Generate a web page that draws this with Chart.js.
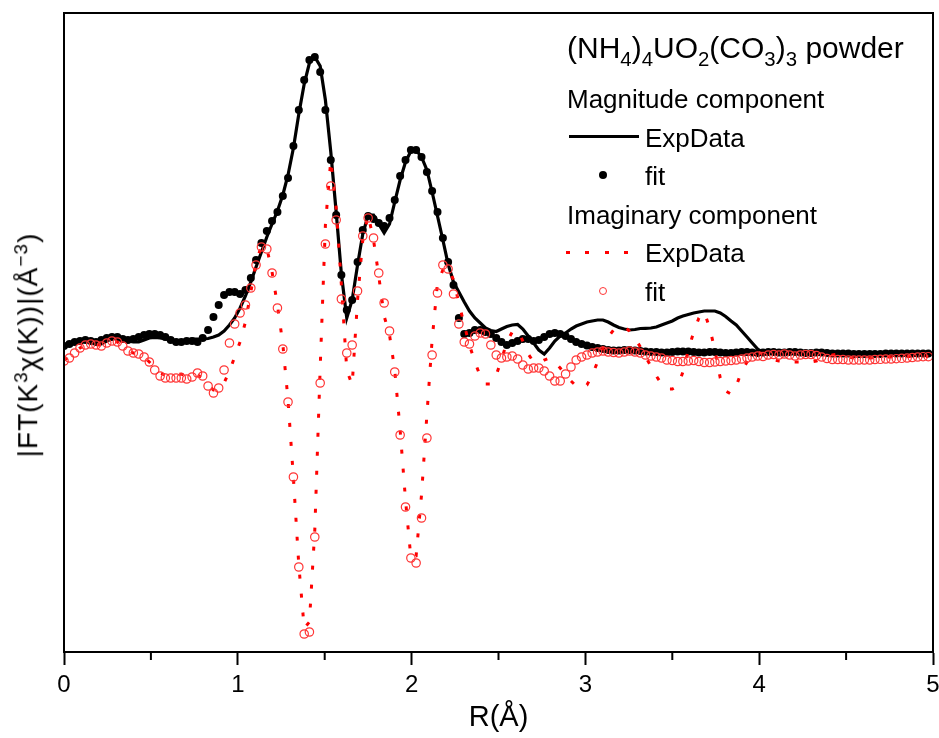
<!DOCTYPE html>
<html lang="pt-BR">
<head>
<meta charset="utf-8">
<title>FT EXAFS (NH4)4UO2(CO3)3</title>
<script src="https://cdn.jsdelivr.net/npm/chart.js@4.4.1/dist/chart.umd.min.js"></script>
<style>
  html, body { margin: 0; padding: 0; background: #fff; }
  #quadro { position: relative; width: 939px; height: 738px; font-family: 'Liberation Sans', Arial, sans-serif; color: #000; }
  #grafico { position: absolute; left: 0; top: 0; }
  .texto { position: absolute; white-space: nowrap; font-size: 26px; line-height: 1.2; }
  .texto sub { font-size: 0.68em; vertical-align: -0.4em; line-height: 0; }
  .texto sup { font-size: 0.68em; vertical-align: 0.55em; line-height: 0; }
  .amostra { position: absolute; box-sizing: border-box; }
  #tituloY { left: 28px; top: 345px; font-size: 28px; letter-spacing: 1px; transform: translate(-50%, -50%) rotate(-90deg); }
</style>
</head>
<body>
<div id="quadro">
  <canvas id="grafico" width="939" height="738"></canvas>

  <!-- Legenda montada à mão (tem subtítulos por componente) -->
  <div class="texto" style="left:567px; top:30px; font-size:30px;">(NH<sub>4</sub>)<sub>4</sub>UO<sub>2</sub>(CO<sub>3</sub>)<sub>3</sub> powder</div>
  <div class="texto" style="left:567px; top:84px;">Magnitude component</div>
  <div class="amostra" style="left:569px; top:135px; width:70px; height:3px; background:#000;"></div>
  <div class="texto" style="left:645px; top:123px;">ExpData</div>
  <div class="amostra" style="left:598.5px; top:171px; width:8px; height:8px; border-radius:50%; background:#000;"></div>
  <div class="texto" style="left:645px; top:161px;">fit</div>
  <div class="texto" style="left:567px; top:200px;">Imaginary component</div>
  <div class="amostra" style="left:566px; top:251px; width:64px; height:3px; background:repeating-linear-gradient(to right, #f00 0 4px, transparent 4px 19.3px);"></div>
  <div class="texto" style="left:645px; top:238px;">ExpData</div>
  <div class="amostra" style="left:598.5px; top:286.5px; width:8.5px; height:8.5px; border:1.2px solid #ff3535; border-radius:50%;"></div>
  <div class="texto" style="left:645px; top:277px;">fit</div>

  <div class="texto" id="tituloY">|FT(K<sup>3</sup>χ(K))|(Å<sup>−3</sup>)</div>
</div>

<script>
// Grade de R (Å) da transformada de Fourier
const distanciasR = [
  0, 0.031, 0.061, 0.092, 0.123, 0.154, 0.184, 0.215, 0.246, 0.276,
  0.307, 0.338, 0.368, 0.399, 0.430, 0.461, 0.491, 0.522, 0.553, 0.583,
  0.614, 0.645, 0.675, 0.706, 0.737, 0.768, 0.798, 0.829, 0.860, 0.890,
  0.921, 0.952, 0.982, 1.013, 1.044, 1.075, 1.105, 1.136, 1.167, 1.197,
  1.228, 1.259, 1.289, 1.320, 1.351, 1.382, 1.412, 1.443, 1.474, 1.504,
  1.535, 1.566, 1.596, 1.627, 1.658, 1.689, 1.719, 1.750, 1.781, 1.811,
  1.842, 1.873, 1.903, 1.934, 1.965, 1.996, 2.026, 2.057, 2.088, 2.118,
  2.149, 2.180, 2.210, 2.241, 2.272, 2.303, 2.333, 2.364, 2.395, 2.425,
  2.456, 2.487, 2.517, 2.548, 2.579, 2.610, 2.640, 2.671, 2.702, 2.732,
  2.763, 2.794, 2.824, 2.855, 2.886, 2.917, 2.947, 2.978, 3.009, 3.039,
  3.070, 3.101, 3.131, 3.162, 3.193, 3.224, 3.254, 3.285, 3.316, 3.346,
  3.377, 3.408, 3.438, 3.469, 3.500, 3.531, 3.561, 3.592, 3.623, 3.653,
  3.684, 3.715, 3.745, 3.776, 3.807, 3.838, 3.868, 3.899, 3.930, 3.960,
  3.991, 4.022, 4.052, 4.083, 4.114, 4.145, 4.175, 4.206, 4.237, 4.267,
  4.298, 4.329, 4.359, 4.390, 4.421, 4.452, 4.482, 4.513, 4.544, 4.574,
  4.605, 4.636, 4.666, 4.697, 4.728, 4.759, 4.789, 4.820, 4.851, 4.881,
  4.912, 4.943, 4.973
];

// Componente de magnitude - dados experimentais (linha preta)
const magnitudeExp = [
  0.08, 0.10, 0.12, 0.14, 0.15, 0.14, 0.11, 0.11, 0.14, 0.165,
  0.165, 0.15, 0.14, 0.13, 0.13, 0.15, 0.17, 0.175, 0.17, 0.16,
  0.15, 0.14, 0.14, 0.15, 0.16, 0.16, 0.16, 0.165, 0.18, 0.20,
  0.24, 0.30, 0.37, 0.47, 0.59, 0.73, 0.88, 1.03, 1.18, 1.31,
  1.44, 1.60, 1.80, 2.07, 2.41, 2.71, 2.92, 2.98, 2.89, 2.55,
  2.03, 1.43, 0.81, 0.37, 0.55, 0.90, 1.21, 1.40, 1.40, 1.31,
  1.22, 1.31, 1.53, 1.75, 1.93, 2.04, 2.05, 1.98, 1.85, 1.63,
  1.39, 1.15, 0.91, 0.73, 0.63, 0.53, 0.44, 0.37, 0.32, 0.27,
  0.245, 0.235, 0.26, 0.285, 0.30, 0.305, 0.26, 0.19, 0.12, 0.05,
  0.01, 0.07, 0.14, 0.19, 0.22, 0.26, 0.29, 0.31, 0.33, 0.34,
  0.35, 0.35, 0.33, 0.30, 0.275, 0.26, 0.25, 0.255, 0.265, 0.267,
  0.27, 0.28, 0.30, 0.32, 0.34, 0.37, 0.39, 0.405, 0.42, 0.43,
  0.44, 0.44, 0.44, 0.42, 0.385, 0.34, 0.30, 0.24, 0.18, 0.12,
  0.06, 0.025, 0.02, 0.02, 0.015, 0.02, 0.02, 0.025, 0.02, 0.015,
  0.015, 0.02, 0.02, 0.015, 0.015, 0.01, 0.01, 0.01, 0.01, 0.01,
  0.01, 0.01, 0.01, 0.015, 0.015, 0.015, 0.015, 0.015, 0.015, 0.015,
  0.015, 0.015, 0.015
];

// Componente de magnitude - ajuste (pontos pretos)
const magnitudeAjuste = [
  0.09, 0.11, 0.13, 0.14, 0.15, 0.14, 0.13, 0.15, 0.17, 0.18,
  0.18, 0.16, 0.15, 0.16, 0.18, 0.20, 0.21, 0.21, 0.20, 0.18,
  0.15, 0.13, 0.13, 0.14, 0.14, 0.13, 0.17, 0.25, 0.38, 0.50,
  0.60, 0.63, 0.63, 0.61, 0.65, 0.77, 0.95, 1.12, 1.24, 1.34,
  1.43, 1.59, 1.77, 2.09, 2.45, 2.75, 2.95, 2.98, 2.83, 2.45,
  1.95, 1.40, 0.80, 0.45, 0.55, 0.93, 1.25, 1.39, 1.36, 1.32,
  1.29, 1.37, 1.55, 1.79, 1.95, 2.05, 2.05, 1.98, 1.83, 1.64,
  1.43, 1.17, 0.93, 0.70, 0.37, 0.21, 0.22, 0.25, 0.25, 0.23,
  0.21, 0.17, 0.13, 0.10, 0.12, 0.14, 0.16, 0.16, 0.14, 0.15,
  0.18, 0.21, 0.22, 0.21, 0.19, 0.16, 0.13, 0.11, 0.095, 0.08,
  0.07, 0.06, 0.05, 0.045, 0.045, 0.05, 0.05, 0.045, 0.04, 0.035,
  0.03, 0.03, 0.025, 0.025, 0.03, 0.035, 0.035, 0.035, 0.03, 0.025,
  0.025, 0.03, 0.03, 0.025, 0.02, 0.02, 0.025, 0.03, 0.03, 0.025,
  0.02, 0.025, 0.03, 0.03, 0.025, 0.025, 0.03, 0.03, 0.025, 0.02,
  0.02, 0.025, 0.025, 0.02, 0.015, 0.015, 0.015, 0.015, 0.01, 0.01,
  0.01, 0.01, 0.01, 0.01, 0.015, 0.015, 0.015, 0.015, 0.015, 0.015,
  0.015, 0.015, 0.015
];

// Componente imaginária - dados experimentais (pontilhado vermelho)
const imaginarioExp = [
  -0.05, -0.02, 0.03, 0.07, 0.10, 0.11, 0.10, 0.10, 0.12, 0.14,
  0.13, 0.09, 0.05, 0.02, 0.01, -0.02, -0.07, -0.13, -0.18, -0.20,
  -0.21, -0.20, -0.19, -0.21, -0.22, -0.20, -0.23, -0.30, -0.35, -0.35,
  -0.28, -0.16, -0.02, 0.13, 0.33, 0.63, 0.93, 1.09, 1.07, 0.83,
  0.50, 0.11, -0.45, -1.23, -2.10, -2.73, -2.67, -1.75, -0.13, 1.30,
  1.95, 1.47, 0.70, -0.15, -0.30, 0.55, 1.15, 1.40, 1.15, 0.79,
  0.39, 0.20, -0.15, -0.75, -1.45, -2.03, -2.01, -1.40, -0.60, 0.15,
  0.72, 0.85, 0.88, 0.75, 0.52, 0.30, 0.10, -0.07, -0.21, -0.29,
  -0.29, -0.20, -0.05, 0.13, 0.23, 0.25, 0.14, 0.01, -0.07, -0.08,
  -0.05, -0.03, -0.07, -0.13, -0.20, -0.26, -0.31, -0.33, -0.30, -0.20,
  -0.07, 0.07, 0.18, 0.25, 0.28, 0.28, 0.24, 0.17, 0.08, -0.02,
  -0.11, -0.21, -0.29, -0.34, -0.34, -0.31, -0.17, 0.05, 0.23, 0.37,
  0.43, 0.27, 0.05, -0.23, -0.36, -0.39, -0.31, -0.16, -0.07, -0.01,
  0.03, 0.01, -0.03, -0.05, -0.06, -0.065, -0.07, -0.07, -0.07, -0.07,
  -0.07, -0.06, -0.04, -0.02, 0.00, 0.01, 0.00, -0.02, -0.03, -0.03,
  -0.03, -0.03, -0.025, -0.02, -0.02, -0.02, -0.02, -0.02, -0.015, -0.015,
  -0.015, -0.015, -0.015
];

// Componente imaginária - ajuste (círculos vermelhos)
const imaginarioAjuste = [
  -0.06, -0.03, 0.02, 0.07, 0.10, 0.11, 0.10, 0.09, 0.12, 0.14,
  0.13, 0.09, 0.04, 0.02, 0.01, -0.02, -0.07, -0.15, -0.21, -0.23,
  -0.23, -0.23, -0.23, -0.24, -0.22, -0.18, -0.21, -0.31, -0.38, -0.33,
  -0.15, 0.12, 0.31, 0.42, 0.50, 0.67, 0.90, 1.08, 1.06, 0.82,
  0.47, 0.06, -0.47, -1.22, -2.12, -2.79, -2.77, -1.82, -0.28, 1.11,
  1.69, 1.35, 0.56, 0.02, 0.10, 0.64, 1.19, 1.37, 1.17, 0.82,
  0.52, 0.24, -0.17, -0.80, -1.52, -2.03, -2.08, -1.63, -0.83, 0.00,
  0.62, 0.90, 0.86, 0.61, 0.31, 0.13, 0.11, 0.19, 0.22, 0.21,
  0.10, 0.00, -0.03, -0.02, -0.01, -0.04, -0.10, -0.14, -0.13, -0.13,
  -0.16, -0.21, -0.26, -0.26, -0.19, -0.12, -0.05, -0.02, 0.00, 0.02,
  0.03, 0.04, 0.03, 0.025, 0.02, 0.03, 0.04, 0.03, 0.02, 0.00,
  -0.01, -0.02, -0.03, -0.05, -0.055, -0.065, -0.065, -0.06, -0.055, -0.065,
  -0.075, -0.075, -0.07, -0.065, -0.06, -0.055, -0.05, -0.04, -0.03, -0.02,
  -0.01, -0.015, 0.00, 0.005, 0.00, 0.01, 0.00, -0.01, 0.00, 0.005,
  0.005, -0.005, -0.02, -0.035, -0.045, -0.045, -0.045, -0.05, -0.05, -0.05,
  -0.05, -0.05, -0.045, -0.043, -0.04, -0.04, -0.037, -0.033, -0.03, -0.025,
  -0.02, -0.017, -0.017
];

// Marcas do eixo R
const marcasMaiores = [0, 1, 2, 3, 4, 5];
const marcasMenores = [0.5, 1.5, 2.5, 3.5, 4.5];

// Junta R com cada série
function pontos(valores) {
  return distanciasR.map((r, i) => ({ x: r, y: valores[i] }));
}

// Moldura do gráfico e marcas menores do eixo x
const moldura = {
  id: 'moldura',
  afterDraw(chart) {
    const { ctx, chartArea: a, scales } = chart;
    ctx.save();
    ctx.strokeStyle = '#000';
    ctx.lineWidth = 2;
    ctx.strokeRect(a.left, a.top, a.right - a.left, a.bottom - a.top);
    marcasMenores.forEach(v => {
      const px = scales.x.getPixelForValue(v);
      ctx.beginPath();
      ctx.moveTo(px, a.bottom);
      ctx.lineTo(px, a.bottom + 8);
      ctx.stroke();
    });
    ctx.restore();
  }
};

window.addEventListener('DOMContentLoaded', montarGrafico);

function montarGrafico() {
  new Chart(document.getElementById('grafico'), {
    type: 'scatter',
    data: {
      datasets: [
        {
          label: 'Magnitude ExpData',
          data: pontos(magnitudeExp),
          showLine: true,
          borderColor: '#000',
          borderWidth: 3.2,
          pointRadius: 0,
          tension: 0,
          order: 4
        },
        {
          label: 'Magnitude fit',
          data: pontos(magnitudeAjuste),
          showLine: false,
          pointRadius: 4,
          pointBackgroundColor: '#000',
          pointBorderWidth: 0,
          order: 3
        },
        {
          label: 'Imaginary ExpData',
          data: pontos(imaginarioExp),
          showLine: true,
          borderColor: '#ff0000',
          borderWidth: 3,
          borderDash: [4, 15],
          pointRadius: 0,
          tension: 0,
          order: 2
        },
        {
          label: 'Imaginary fit',
          data: pontos(imaginarioAjuste),
          showLine: false,
          pointRadius: 4.2,
          pointBackgroundColor: 'rgba(0,0,0,0)',
          pointBorderColor: '#ff3535',
          pointBorderWidth: 1.2,
          order: 1
        }
      ]
    },
    options: {
      responsive: false,
      animation: false,
      events: [],
      layout: {
        padding: { left: 64, top: 13, right: 0, bottom: 0 }
      },
      plugins: {
        legend: { display: false },
        tooltip: { enabled: false }
      },
      scales: {
        x: {
          type: 'linear',
          min: 0,
          max: 5,
          afterBuildTicks: escala => {
            escala.ticks = marcasMaiores.map(v => ({ value: v }));
          },
          afterFit: escala => {
            escala.height = 86;      // força a base da área do gráfico
            escala.paddingLeft = 0;  // não deixa os rótulos encolherem a área
            escala.paddingRight = 6;
          },
          ticks: {
            padding: 6,
            color: '#000',
            font: { family: "'Liberation Sans', Arial, sans-serif", size: 24, lineHeight: 1.2 }
          },
          grid: {
            drawOnChartArea: false,
            drawTicks: true,
            tickLength: 13,
            tickWidth: 2,
            tickColor: '#000'
          },
          border: { display: true, color: '#000', width: 2 },
          title: {
            display: true,
            text: 'R(Å)',
            color: '#000',
            padding: { top: 0, bottom: 3 },
            font: { family: "'Liberation Sans', Arial, sans-serif", size: 29, lineHeight: 1.2 }
          }
        },
        y: {
          display: false,
          min: -2.97,
          max: 3.42
        }
      }
    },
    plugins: [moldura]
  });
}
</script>
</body>
</html>
